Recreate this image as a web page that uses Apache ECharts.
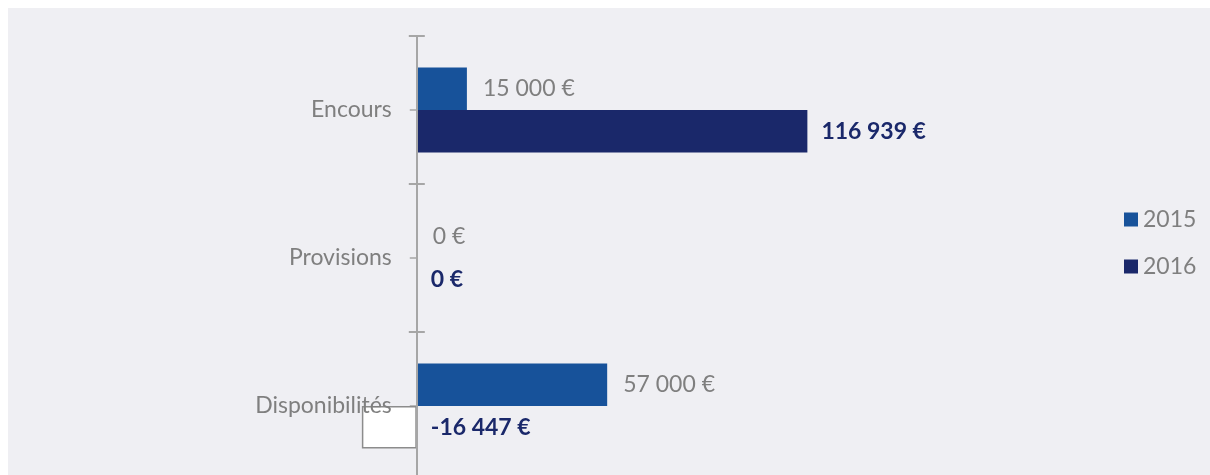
<!DOCTYPE html>
<html><head><meta charset="utf-8">
<script src="https://cdn.jsdelivr.net/npm/echarts@6/dist/echarts.min.js"></script>
<style>html,body{margin:0;padding:0;background:#fff}#c{width:1210px;height:475px}</style>
</head><body><div id="c"></div>
<script>
const categories = ['Encours', 'Provisions', 'Disponibilités'];
const seriesNames = ['2015', '2016'];
const values2015 = [15000, 0, 57000];
const values2016 = [116939, 0, -16447];

const FONT = 'Lato, "Open Sans", sans-serif';
const FS = 23;
const GRAY = '#7F7F7F';
const C2015 = '#17529A';
const C2016 = '#1A286A';
const fmt = v => {
  const s = Math.abs(v).toString().replace(/\B(?=(\d{3})+(?!\d))/g, ' ');
  return (v < 0 ? '-' : '') + s + ' €';
};

const GRID_LEFT = 16, GRID_W = 801.6, XMIN = -120000, XMAX = 120000;
const zeroOffset = -(GRID_W * (0 - XMIN) / (XMAX - XMIN));

const chart = echarts.init(document.getElementById('c'), null, {renderer: 'canvas'});
const catAxisBase = {
  type: 'category', data: categories, inverse: true, position: 'left', offset: zeroOffset,
  axisLine: {show: true, onZero: false, lineStyle: {color: '#A6A6A6', width: 2}},
  splitLine: {show: false}
};
chart.setOption({
  backgroundColor: '#ffffff',
  animation: false,
  graphic: [{type: 'rect', left: 8, top: 8, z: -10, shape: {width: 1202, height: 467}, style: {fill: '#EFEFF3'}}],
  grid: {left: GRID_LEFT, top: 36, width: GRID_W, height: 444, outerBoundsMode: 'none', containLabel: false},
  xAxis: {type: 'value', min: XMIN, max: XMAX, show: false},
  yAxis: [
    Object.assign({}, catAxisBase, {
      z: 5,
      axisTick: {show: true, length: 8, inside: false, lineStyle: {color: '#A6A6A6', width: 2}},
      axisLabel: {show: true, margin: 25, color: GRAY, fontFamily: FONT, fontSize: FS}
    }),
    Object.assign({}, catAxisBase, {
      axisTick: {show: true, length: 8, inside: true, lineStyle: {color: '#A6A6A6', width: 2}},
      axisLabel: {show: false}
    }),
    Object.assign({}, catAxisBase, {
      axisTick: {show: true, alignWithLabel: true, length: 7, inside: false, lineStyle: {color: '#A6A6A6', width: 1.5}},
      axisLabel: {show: false}
    })
  ],
  legend: {
    orient: 'vertical', left: 1119, top: 203, itemWidth: 14, itemHeight: 14, itemGap: 24,
    icon: 'rect',
    textStyle: {color: GRAY, fontFamily: FONT, fontSize: FS, padding: [0, 0, 0, 0]},
    data: seriesNames
  },
  series: [
    {
      name: seriesNames[0], type: 'bar', data: values2015, yAxisIndex: 0,
      barGap: '0%', barCategoryGap: '42.6%',
      itemStyle: {color: C2015},
      label: {show: true, position: 'right', distance: 16, color: GRAY, fontFamily: FONT, fontSize: FS,
        formatter: p => fmt(p.value)}
    },
    {
      name: seriesNames[1], type: 'bar', yAxisIndex: 0,
      data: values2016.map(v => v < 0 ? {value: v, itemStyle: {color: '#FFFFFF', borderColor: '#8C8C8C', borderWidth: 1.5}} : v),
      barGap: '0%', barCategoryGap: '42.6%',
      itemStyle: {color: C2016},
      label: {show: true, position: 'right', distance: 14, color: C2016, fontFamily: FONT, fontSize: FS, fontWeight: 'bold',
        formatter: p => fmt(p.value)}
    }
  ]
});
</script></body></html>
